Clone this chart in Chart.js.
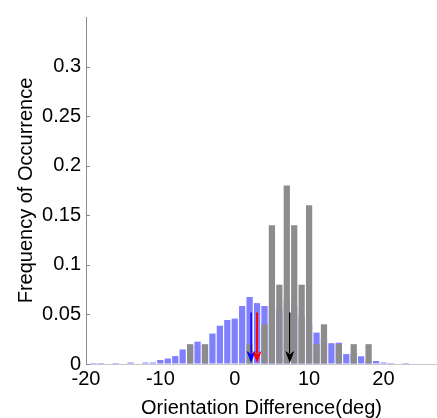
<!DOCTYPE html>
<html>
<head>
<meta charset="utf-8">
<script src="https://cdn.jsdelivr.net/npm/chart.js@4"></script>
<style>
    html, body { margin: 0; padding: 0; background: #fff; }
    #wrap { width: 437px; height: 418px; }
</style>
</head>
<body>
<div id="wrap"><canvas id="histChart" width="437" height="418"></canvas></div>
<script>
// Bin centres (deg) and relative frequencies for the two distributions
const binCenters = [-20, -19, -18, -17, -16, -15, -14, -13, -12, -11, -10, -9, -8, -7, -6, -5, -4, -3, -2, -1,
    0, 1, 2, 3, 4, 5, 6, 7, 8, 9, 10, 11, 12, 13, 14, 15, 16, 17, 18, 19, 20, 21, 22, 23, 24, 25, 26, 27];

const blueFreq = [0, 0.001, 0.001, 0, 0.001, 0, 0.0015, 0.0005, 0.0015, 0.0015, 0.004, 0.0055, 0.008, 0.0147, 0.019, 0.0225, 0.019, 0.0307, 0.0386, 0.0444,
    0.0458, 0.0585, 0.0676, 0.0614, 0.0585, 0.058, 0.055, 0.064, 0.0585, 0.047, 0.040, 0.0317, 0.026, 0.021, 0.0215, 0.010, 0.0105, 0.0078, 0.003, 0.003, 0.0015, 0.001, 0, 0.001, 0, 0, 0, 0];

const grayFreq = [0, 0, 0, 0, 0, 0, 0, 0, 0, 0, 0, 0, 0, 0, 0.02, 0, 0.02, 0, 0, 0,
    0, 0, 0.02, 0, 0.04, 0.14, 0.08, 0.18, 0.14, 0.08, 0.16, 0.02, 0.04, 0, 0.02, 0, 0.02, 0, 0.02, 0, 0, 0, 0, 0, 0, 0, 0, 0];

// Mean markers (deg) and the height they start from
const arrowX = [2.2, 3.0, 7.4];
const arrowTop = 0.052;

const xTicks = [-20, -10, 0, 10, 20];
const yTicks = [0, 0.05, 0.1, 0.15, 0.2, 0.25, 0.3];

const FONT = 'Liberation Sans, Arial, sans-serif';

const colors = {
    blue: 'rgb(128,128,255)',
    gray: 'rgb(140,140,140)',
    arrows: ['#0000ff', '#ff0000', '#000000'],
};

const toPoints = vals => binCenters.map((x, i) => ({ x: x, y: vals[i] }));

// small tick marks inside the plot on the y axis, plus the mean arrows
const extras = {
    id: 'extras',
    afterDatasetsDraw(chart) {
        const { ctx, scales: { x, y } } = chart;
        ctx.save();

        ctx.strokeStyle = '#888';
        ctx.lineWidth = 1;
        yTicks.forEach(v => {
            const py = Math.round(y.getPixelForValue(v)) + 0.5;
            ctx.beginPath();
            ctx.moveTo(x.left, py);
            ctx.lineTo(x.left + 4, py);
            ctx.stroke();
        });

        arrowX.forEach((v, i) => {
            const px = x.getPixelForValue(v);
            const top = y.getPixelForValue(arrowTop);
            const tip = y.getPixelForValue(0) - 1;
            const headH = 12, headW = 4.5;
            ctx.strokeStyle = colors.arrows[i];
            ctx.fillStyle = colors.arrows[i];
            ctx.lineWidth = i === 1 ? 2 : 1.5;
            ctx.beginPath();
            ctx.moveTo(px, top);
            ctx.lineTo(px, tip - headH + 2);
            ctx.stroke();
            ctx.beginPath();
            ctx.moveTo(px - headW, tip - headH);
            ctx.lineTo(px, tip);
            ctx.lineTo(px + headW, tip - headH);
            ctx.lineTo(px, tip - headH + 3);
            ctx.closePath();
            ctx.fill();
        });

        ctx.restore();
    }
};

const ctx = document.getElementById('histChart').getContext('2d');
new Chart(ctx, {
    type: 'bar',
    data: {
        datasets: [
            {
                label: 'gray',
                data: toPoints(grayFreq),
                backgroundColor: colors.gray,
                borderWidth: 0,
                grouped: false,
                barPercentage: 0.84,
                categoryPercentage: 1,
            },
            {
                label: 'blue',
                data: toPoints(blueFreq),
                backgroundColor: colors.blue,
                borderWidth: 0,
                grouped: false,
                barPercentage: 0.84,
                categoryPercentage: 1,
            },
        ],
    },
    options: {
        responsive: false,
        animation: false,
        layout: { padding: { top: 8, right: 0, left: 0, bottom: 0 } },
        plugins: {
            legend: { display: false },
            tooltip: { enabled: false },
        },
        scales: {
            x: {
                type: 'linear',
                min: -20,
                max: 27.2,
                offset: false,
                afterFit: s => { s.height = 54; },
                afterBuildTicks: s => { s.ticks = xTicks.map(v => ({ value: v })); },
                grid: { display: true, drawOnChartArea: false, drawTicks: false },
                border: { display: true, color: '#c8c8c8' },
                ticks: {
                    padding: 3,
                    maxRotation: 0,
                    color: '#000',
                    font: { family: FONT, size: 20 },
                },
                title: {
                    display: true,
                    text: 'Orientation Difference(deg)',
                    color: '#000',
                    font: { family: FONT, size: 20, lineHeight: 1 },
                    padding: { top: 0, bottom: 0 },
                },
            },
            y: {
                min: 0,
                max: 0.35,
                afterFit: s => { s.width = 86; },
                afterBuildTicks: s => { s.ticks = yTicks.map(v => ({ value: v })); },
                grid: { display: true, drawOnChartArea: false, drawTicks: false },
                border: { display: true, color: '#8c8c8c' },
                ticks: {
                    padding: 5,
                    color: '#000',
                    font: { family: FONT, size: 20 },
                    callback: v => String(v),
                },
                title: {
                    display: true,
                    text: 'Frequency of Occurrence',
                    color: '#000',
                    font: { family: FONT, size: 20, lineHeight: 1 },
                    padding: { top: 16, bottom: 0 },
                },
            },
        },
    },
    plugins: [extras],
});
</script>
</body>
</html>
